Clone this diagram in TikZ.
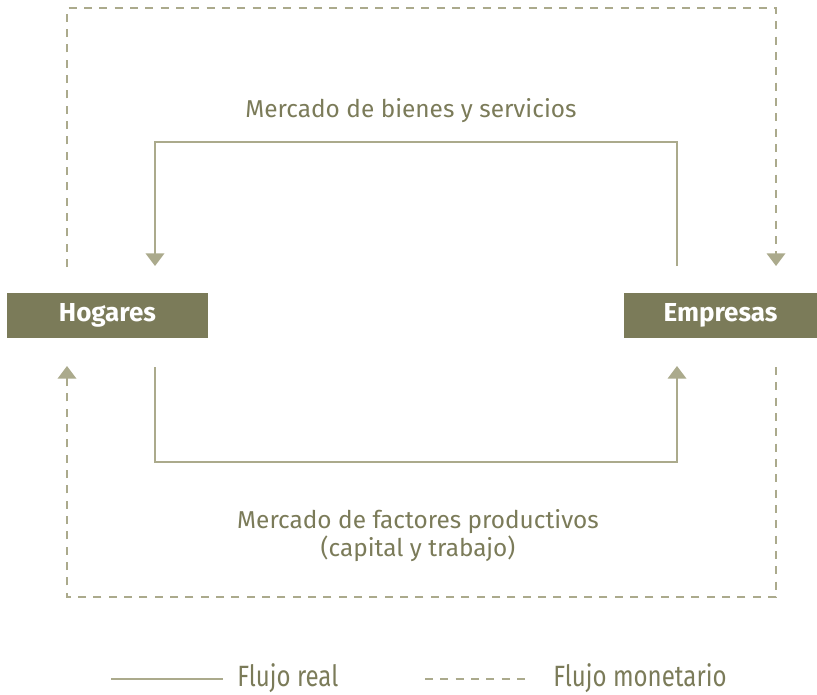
\documentclass[tikz,border=0pt]{standalone}
\usepackage{fontspec}
\setmainfont{Fira Sans}
\newfontfamily\legendFont[FakeStretch=0.82]{Fira Sans}
\usetikzlibrary{arrows.meta}
\definecolor{boxColor}{HTML}{7B7B59}
\definecolor{flowColor}{HTML}{ABAA8C}
\definecolor{textColor}{HTML}{7B7B59}
\tikzstyle{agentBox} = [fill=boxColor, text=white, font=\bfseries\fontsize{19.5}{22}\selectfont, minimum height=33.75pt, inner sep=0pt]
\tikzstyle{flowLabel} = [text=textColor, font=\fontsize{18.3}{21}\selectfont, align=center, inner sep=0pt]
\tikzstyle{legendLabel} = [text=textColor, font=\legendFont\fontsize{22}{24}\selectfont, anchor=west, inner sep=0pt]
\tikzstyle{realFlow} = [color=flowColor, line width=1.1pt]
\tikzstyle{moneyFlow} = [color=flowColor, line width=1.1pt, dash pattern=on 6pt off 5.5pt]
\tikzstyle{flowTip} = [-{Triangle[width=14pt, length=9.5pt]}]
\begin{document}
\begin{tikzpicture}[x=0.75pt, y=-0.75pt]
  \useasboundingbox (0,0) rectangle (817,694);

  % agents
  \node [agentBox, minimum width=150.75pt] (hogares) at (107.5,315.5) {Hogares};
  \node [agentBox, minimum width=144.75pt] (empresas) at (720.5,315.5) {Empresas};

  % end points of the flows
  \coordinate (hogaresTop) at (155,266);
  \coordinate (hogaresBottom) at (155,367);
  \coordinate (empresasTop) at (677,266);
  \coordinate (empresasBottom) at (677,366);
  \coordinate (hogaresMoneyTop) at (67,267);
  \coordinate (hogaresMoneyBottom) at (67,366);
  \coordinate (empresasMoneyTop) at (776,266);
  \coordinate (empresasMoneyBottom) at (776,367);
  \coordinate (bienesLine) at (0,142);
  \coordinate (factoresLine) at (0,462);
  \coordinate (moneyTopLine) at (0,8);
  \coordinate (moneyBottomLine) at (0,597);

  % real flows
  \draw [realFlow, flowTip] (empresasTop) -- (empresasTop |- bienesLine) -| (hogaresTop);
  \draw [realFlow, flowTip] (hogaresBottom) -- (hogaresBottom |- factoresLine) -| (empresasBottom);

  % money flows
  \draw [moneyFlow, flowTip] (hogaresMoneyTop) -- (hogaresMoneyTop |- moneyTopLine) -| (empresasMoneyTop);
  \draw [moneyFlow, flowTip] (empresasMoneyBottom) -- (empresasMoneyBottom |- moneyBottomLine) -| (hogaresMoneyBottom);

  % markets
  \node [flowLabel] (bienes) at (411,111) {Mercado de bienes y servicios};
  \node [flowLabel] (factores) at (418,536) {Mercado de factores productivos\\(capital y trabajo)};

  % legend
  \coordinate (realStart) at (111,679);
  \coordinate (realEnd) at (223,679);
  \coordinate (moneyStart) at (425,679);
  \coordinate (moneyEnd) at (530,679);
  \draw [realFlow] (realStart) -- (realEnd);
  \draw [moneyFlow] (moneyStart) -- (moneyEnd);
  \node [legendLabel] (realText) at (237,678) {Flujo real};
  \node [legendLabel] (moneyText) at (553,678) {Flujo monetario};
\end{tikzpicture}
\end{document}
